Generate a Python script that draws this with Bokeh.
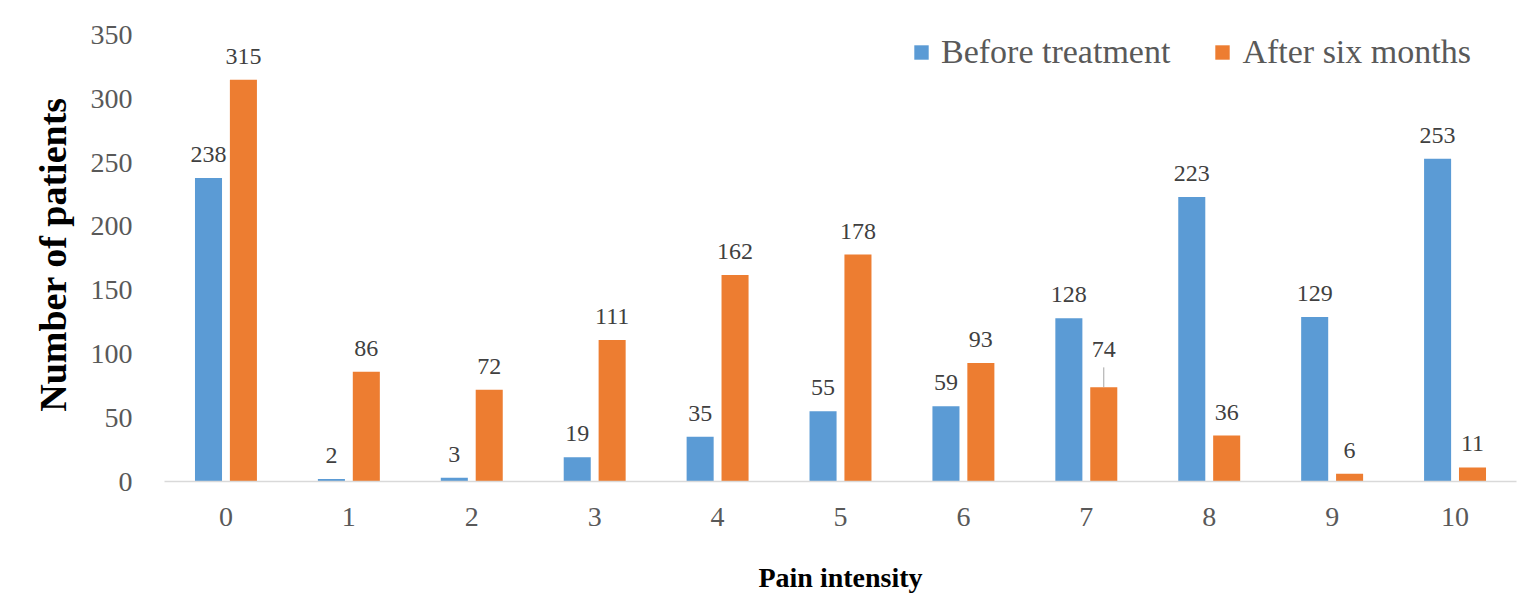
from bokeh.plotting import figure
from bokeh.models import (ColumnDataSource, Range1d, FixedTicker, LabelSet, Legend,
                          LegendItem)
from bokeh.transform import dodge
from bokeh.embed import file_html
from bokeh.resources import INLINE

# ---- data ----
pain = ["0", "1", "2", "3", "4", "5", "6", "7", "8", "9", "10"]
before = [238, 2, 3, 19, 35, 55, 59, 128, 223, 129, 253]
after = [315, 86, 72, 111, 162, 178, 93, 74, 36, 6, 11]
series_names = ["Before treatment", "After six months"]
y_ticks = [0, 50, 100, 150, 200, 250, 300, 350]

BLUE = "#5B9BD5"
ORANGE = "#ED7D31"
FONT = "Liberation Serif"
OFF = 0.142
BW = 0.22

xs = list(range(len(pain)))
# label offsets (px); the "74" label is lifted and joined by a leader line
after_off = [16] * len(pain)
after_off[7] = 30
src = ColumnDataSource(dict(
    x=xs, before=before, after=after,
    before_txt=[str(v) for v in before], after_txt=[str(v) for v in after],
    boff=[16] * len(pain), aoff=after_off,
))

p = figure(width=1522, height=600, output_backend="svg", toolbar_location=None,
           x_range=Range1d(-0.5, len(pain) - 0.5), y_range=Range1d(0, 356),
           min_border_left=164, min_border_right=6, min_border_top=27,
           min_border_bottom=119)
p.outline_line_color = None
p.xgrid.grid_line_color = None
p.ygrid.grid_line_color = None
p.background_fill_color = "white"
p.border_fill_color = "white"

rb = p.vbar(x=dodge("x", -OFF, range=p.x_range), top="before", width=BW, source=src,
            fill_color=BLUE, line_color=None)
ra = p.vbar(x=dodge("x", OFF, range=p.x_range), top="after", width=BW, source=src,
            fill_color=ORANGE, line_color=None)

# leader line for the lifted label
lead_idx = [i for i, o in enumerate(after_off) if o > 16]
lead_src = ColumnDataSource(dict(
    x=[xs[i] for i in lead_idx],
    y0=[after[i] for i in lead_idx],
    y1=[after[i] + 15.5 for i in lead_idx],
))
p.segment(x0=dodge("x", OFF, range=p.x_range), x1=dodge("x", OFF, range=p.x_range),
          y0="y0", y1="y1", source=lead_src, line_color="#A6A6A6", line_width=1)

common = dict(source=src, text_font_size="24px", text_color="#404040",
              text_align="center", text_baseline="alphabetic", text_font=FONT)
p.add_layout(LabelSet(x=dodge("x", -OFF, range=p.x_range), y="before",
                      text="before_txt", y_offset="boff", **common))
p.add_layout(LabelSet(x=dodge("x", OFF, range=p.x_range), y="after",
                      text="after_txt", y_offset="aoff", **common))

# axes
p.xaxis.ticker = FixedTicker(ticks=xs)
p.xaxis.major_label_overrides = {i: s for i, s in zip(xs, pain)}
p.xaxis.axis_line_color = "#D9D9D9"
p.xaxis.axis_line_width = 1.5
p.xaxis.major_tick_line_color = None
p.xaxis.minor_tick_line_color = None
p.xaxis.major_label_text_font = FONT
p.xaxis.major_label_text_font_size = "28px"
p.xaxis.major_label_text_color = "#595959"
p.xaxis.major_label_standoff = 20
p.xaxis.axis_label = "Pain intensity"
p.xaxis.axis_label_text_font = FONT
p.xaxis.axis_label_text_font_size = "28px"
p.xaxis.axis_label_text_font_style = "bold"
p.xaxis.axis_label_text_color = "black"
p.xaxis.axis_label_standoff = 33

p.yaxis.ticker = FixedTicker(ticks=y_ticks)
p.yaxis.axis_line_color = None
p.yaxis.major_tick_line_color = None
p.yaxis.minor_tick_line_color = None
p.yaxis.major_label_text_font = FONT
p.yaxis.major_label_text_font_size = "28px"
p.yaxis.major_label_text_color = "#595959"
p.yaxis.major_label_standoff = 26
p.yaxis.axis_label = "Number of patients"
p.yaxis.axis_label_text_font = FONT
p.yaxis.axis_label_text_font_size = "38px"
p.yaxis.axis_label_text_font_style = "bold"
p.yaxis.axis_label_text_color = "black"
p.yaxis.axis_label_standoff = 14

legend = Legend(items=[LegendItem(label=series_names[0], renderers=[rb]),
                       LegendItem(label=series_names[1], renderers=[ra])],
                orientation="horizontal", location=(748, 410),
                glyph_width=18, glyph_height=18, label_standoff=11, spacing=43,
                label_height=36, padding=0, margin=0, border_line_color=None,
                background_fill_alpha=0,
                label_text_font=FONT, label_text_font_size="34px",
                label_text_color="#595959")
p.add_layout(legend)

open("out.html", "w").write(file_html(p, INLINE))
